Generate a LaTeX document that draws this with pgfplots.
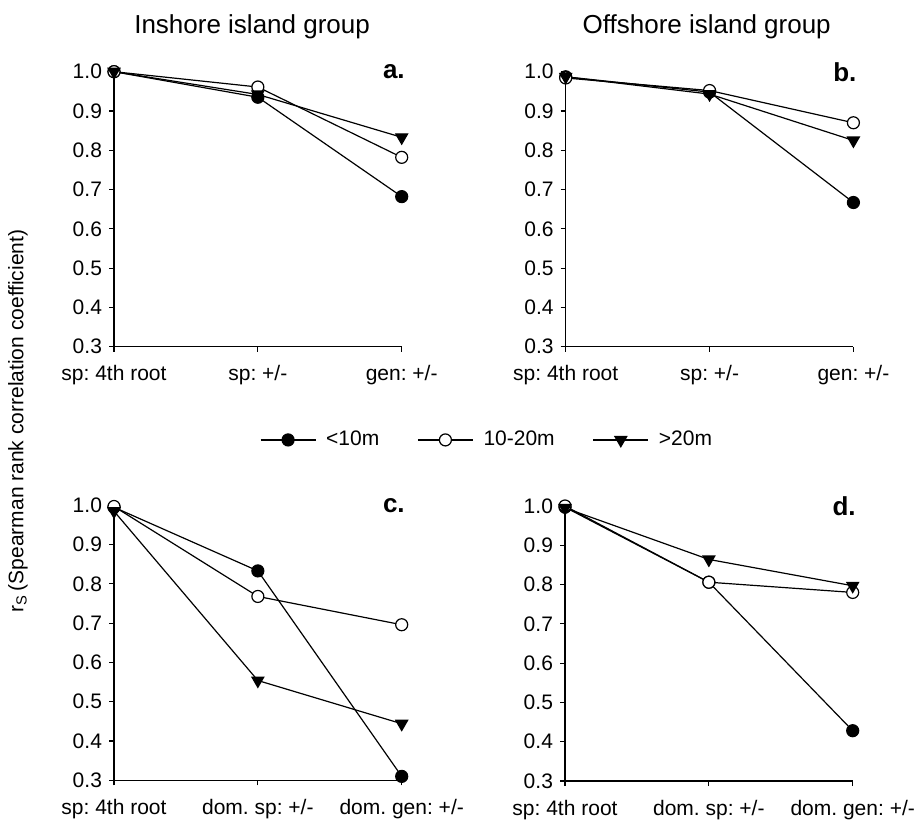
\documentclass[border=0pt]{standalone}
\usepackage{fontspec}
\setmainfont{Liberation Sans}
\usepackage{pgfplots}
\pgfplotsset{compat=1.18}
\frenchspacing

\pgfplotsset{
  panel/.style={
    scale only axis, width=143.85pt, height=137.5pt,
    xmin=0, xmax=2, ymin=0.3, ymax=1.0,
    axis lines*=left,
    axis line style={-, line width=0.6pt, black},
    tick align=outside, major tick length=2.5pt,
    tick style={line width=0.6pt, black},
    xtick={0,1,2},
    ytick={0.3,0.4,0.5,0.6,0.7,0.8,0.9,1.0},
    /pgf/number format/assume math mode=true,
    yticklabel style={/pgf/number format/.cd, fixed, fixed zerofill, precision=1},
    tick label style={font=\fontsize{10.5}{12}\selectfont},
    xticklabel style={yshift=-3.5pt},
    clip=false,
  },
  s1/.style={black, line width=0.6pt, mark=*, mark size=3pt, mark options={fill=black, solid}},
  s2/.style={black, line width=0.6pt, mark=*, mark size=3pt, mark options={fill=white, solid}},
  s3/.style={black, line width=0.6pt, mark=triangle*, mark size=3.4pt, mark options={rotate=180, fill=black, solid}},
}
\tikzset{
  plab/.style={font=\fontsize{13}{15}\selectfont\bfseries, anchor=east},
  ptitle/.style={font=\fontsize{13}{15}\selectfont},
}

\begin{document}
\begin{tikzpicture}
\useasboundingbox (0,0) rectangle (460pt,409.5pt);

% panel a
\begin{axis}[panel, at={(57pt,236.15pt)}, anchor=origin,
  xticklabels={sp: 4th root, sp: +/-, gen: +/-},
  legend columns=3,
  legend style={draw=none, fill=none, at={(1.30,-0.339)}, anchor=center,
    font=\fontsize{10.5}{12}\selectfont,
    /tikz/every odd column/.append style={column sep=3pt},
    /tikz/every even column/.append style={column sep=17pt}},
  legend image code/.code={\draw[mark repeat=2,mark phase=2] plot coordinates {(0pt,0pt)(13.75pt,0pt)(27.5pt,0pt)};},
  ]
\addplot[s1] coordinates {(0,1.0) (1,0.935) (2,0.682)};
\addplot[s2] coordinates {(0,1.0) (1,0.961) (2,0.782)};
\addplot[s3] coordinates {(0,1.0) (1,0.942) (2,0.833)};
\legend{<10m, 10-20m, >20m}
\node[plab] at (rel axis cs:1.035,0.999) {a.};
\node[ptitle] at (rel axis cs:0.48,1.165) {Inshore island group};
\end{axis}

% panel b
\begin{axis}[panel, at={(282.85pt,236.15pt)}, anchor=origin,
  xticklabels={sp: 4th root, sp: +/-, gen: +/-}]
\addplot[s1] coordinates {(0,0.987) (1,0.948) (2,0.667)};
\addplot[s2] coordinates {(0,0.984) (1,0.952) (2,0.870)};
\addplot[s3] coordinates {(0,0.987) (1,0.943) (2,0.825)};
\node[plab] at (rel axis cs:1.035,0.999) {b.};
\node[ptitle] at (rel axis cs:0.49,1.165) {Offshore island group};
\end{axis}

% panel c
\begin{axis}[panel, at={(57pt,19.35pt)}, anchor=origin,
  xticklabels={sp: 4th root, dom. sp: +/-, dom. gen: +/-}]
\addplot[s1] coordinates {(0,0.995) (1,0.833) (2,0.310)};
\addplot[s2] coordinates {(0,0.997) (1,0.768) (2,0.696)};
\addplot[s3] coordinates {(0,0.985) (1,0.554) (2,0.444)};
\node[plab] at (rel axis cs:1.035,0.999) {c.};
\end{axis}

% panel d
\begin{axis}[panel, at={(282.5pt,19pt)}, anchor=origin,
  xticklabels={sp: 4th root, dom. sp: +/-, dom. gen: +/-}]
\addplot[s1] coordinates {(0,0.997) (1,0.806) (2,0.428)};
\addplot[s2] coordinates {(0,1.0) (1,0.806) (2,0.780)};
\addplot[s3] coordinates {(0,0.995) (1,0.864) (2,0.797)};
\node[plab] at (rel axis cs:1.035,0.999) {d.};
\end{axis}

\node[rotate=90, font=\fontsize{10.5}{12}\selectfont] at (9pt,199pt) {r\textsubscript{S}\,(Spearman rank correlation coefficient)};
\end{tikzpicture}
\end{document}
